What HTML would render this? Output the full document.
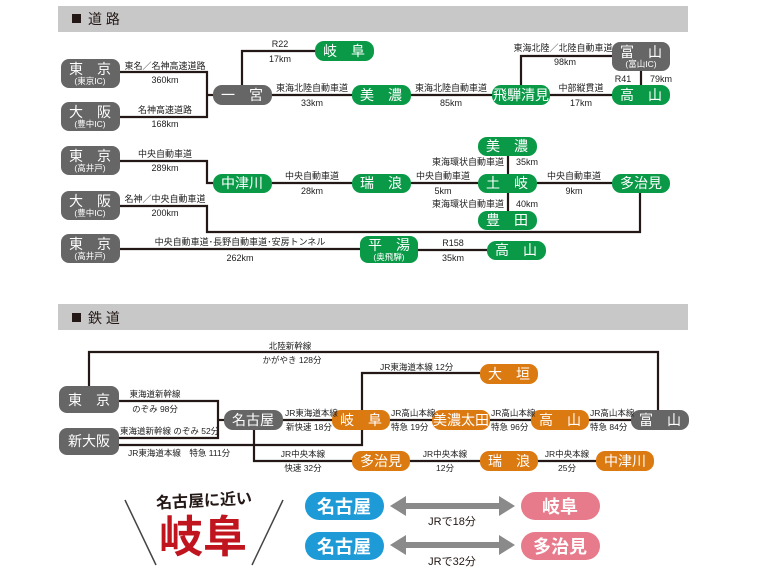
<!DOCTYPE html>
<html><head><meta charset="utf-8"><style>
html,body{margin:0;padding:0;background:#fff}
svg{display:block}
text{font-family:"Liberation Sans","Noto Sans CJK JP",sans-serif}
.s{font-size:9px;fill:#222}
.r{font-size:8.5px;fill:#222}
.w{fill:#fff;font-size:14px}
.ws{fill:#fff;font-size:8.5px}
</style></head><body>
<svg width="763" height="572" viewBox="0 0 763 572" xmlns="http://www.w3.org/2000/svg">
<rect x="58" y="6" width="630" height="26" fill="#c8c8c8"/>
<rect x="72" y="14" width="9" height="9" fill="#231815"/>
<text x="88" y="24" font-size="14" fill="#231815">道 路</text>
<rect x="58" y="304" width="630" height="26" fill="#c8c8c8"/>
<rect x="72" y="313" width="9" height="9" fill="#231815"/>
<text x="88" y="323" font-size="14" fill="#231815">鉄 道</text>

<g stroke="#231815" stroke-width="2.2" fill="none">
<polyline points="120,72 207,72 207,117 120,117"/>
<line x1="207" y1="95" x2="213" y2="95"/>
<polyline points="242,85 242,51 315,51"/>
<line x1="272" y1="95" x2="352" y2="95"/>
<line x1="411" y1="95" x2="492" y2="95"/>
<line x1="550" y1="95" x2="612" y2="95"/>
<polyline points="521,85 521,56 612,56"/>
<line x1="641" y1="71" x2="641" y2="85"/>
<polyline points="120,161 207,161 207,183 213,183"/>
<line x1="272" y1="183" x2="352" y2="183"/>
<line x1="411" y1="183" x2="478" y2="183"/>
<line x1="537" y1="183" x2="612" y2="183"/>
<line x1="508" y1="156" x2="508" y2="211"/>
<polyline points="120,206 207,206 207,232 640,232 640,193"/>
<line x1="120" y1="249" x2="360" y2="249"/>
<line x1="418" y1="250" x2="487" y2="250"/>

<polyline points="89,386 89,352 658,352 658,410"/>
<polyline points="119,401 218,401 218,438 119,438"/>
<line x1="218" y1="420" x2="224" y2="420"/>
<line x1="283" y1="420" x2="631" y2="420"/>
<polyline points="119,445 362,445 362,373 480,373"/>
<polyline points="254,430 254,461 352,461"/>
<line x1="410" y1="461" x2="596" y2="461"/>
</g>

<g fill="#666">
<rect x="61" y="59" width="59" height="29" rx="8"/>
<rect x="61" y="102" width="59" height="29" rx="8"/>
<rect x="213" y="85" width="59" height="20" rx="9"/>
<rect x="612" y="42" width="58" height="29" rx="8"/>
<rect x="61" y="146" width="59" height="29" rx="8"/>
<rect x="61" y="191" width="59" height="29" rx="8"/>
<rect x="61" y="234" width="59" height="29" rx="8"/>
<rect x="59" y="386" width="60" height="27" rx="8"/>
<rect x="59" y="428" width="60" height="27" rx="8"/>
<rect x="224" y="410" width="59" height="20" rx="9"/>
<rect x="631" y="410" width="58" height="20" rx="9"/>
</g>
<g fill="#0a9a47">
<rect x="315" y="41" width="59" height="20" rx="9"/>
<rect x="352" y="85" width="59" height="20" rx="9"/>
<rect x="492" y="85" width="58" height="20" rx="9"/>
<rect x="612" y="85" width="58" height="20" rx="9"/>
<rect x="213" y="174" width="59" height="19" rx="9"/>
<rect x="352" y="174" width="59" height="19" rx="9"/>
<rect x="478" y="137" width="59" height="19" rx="9"/>
<rect x="478" y="174" width="59" height="19" rx="9"/>
<rect x="478" y="211" width="59" height="19" rx="9"/>
<rect x="612" y="174" width="58" height="19" rx="9"/>
<rect x="360" y="236" width="58" height="27" rx="8"/>
<rect x="487" y="241" width="59" height="19" rx="9"/>
</g>
<g fill="#dc7a12">
<rect x="332" y="410" width="58" height="20" rx="9"/>
<rect x="480" y="364" width="58" height="20" rx="9"/>
<rect x="432" y="410" width="58" height="20" rx="9"/>
<rect x="531" y="410" width="58" height="20" rx="9"/>
<rect x="352" y="451" width="58" height="20" rx="9"/>
<rect x="480" y="451" width="58" height="20" rx="9"/>
<rect x="596" y="451" width="58" height="20" rx="9"/>
</g>

<g text-anchor="middle">
<text class="w" x="90" y="74">東　京</text><text class="ws" x="90" y="84">(東京IC)</text>
<text class="w" x="90" y="117">大　阪</text><text class="ws" x="90" y="127">(豊中IC)</text>
<text class="w" x="242" y="100">一　宮</text>
<text class="w" x="641" y="57">富　山</text><text class="ws" x="641" y="67">(富山IC)</text>
<text class="w" x="90" y="161">東　京</text><text class="ws" x="90" y="171">(高井戸)</text>
<text class="w" x="90" y="206">大　阪</text><text class="ws" x="90" y="216">(豊中IC)</text>
<text class="w" x="90" y="249">東　京</text><text class="ws" x="90" y="259">(高井戸)</text>
<text class="w" x="344" y="56">岐　阜</text>
<text class="w" x="381" y="100">美　濃</text>
<text class="w" x="521" y="100">飛騨清見</text>
<text class="w" x="641" y="100">高　山</text>
<text class="w" x="242" y="188">中津川</text>
<text class="w" x="381" y="188">瑞　浪</text>
<text class="w" x="507" y="151">美　濃</text>
<text class="w" x="507" y="188">土　岐</text>
<text class="w" x="507" y="225">豊　田</text>
<text class="w" x="641" y="188">多治見</text>
<text class="w" x="389" y="250">平　湯</text><text class="ws" x="389" y="260">(奥飛騨)</text>
<text class="w" x="516" y="255">高　山</text>
<text class="w" x="89" y="405">東　京</text>
<text class="w" x="89" y="446">新大阪</text>
<text class="w" x="253" y="425">名古屋</text>
<text class="w" x="660" y="425">富　山</text>
<text class="w" x="361" y="425">岐　阜</text>
<text class="w" x="509" y="379">大　垣</text>
<text class="w" x="461" y="425">美濃太田</text>
<text class="w" x="560" y="425">高　山</text>
<text class="w" x="381" y="466">多治見</text>
<text class="w" x="509" y="466">瑞　浪</text>
<text class="w" x="625" y="466">中津川</text>

<text class="s" x="165" y="69">東名／名神高速道路</text><text class="s" x="165" y="83">360km</text>
<text class="s" x="165" y="113">名神高速道路</text><text class="s" x="165" y="127">168km</text>
<text class="s" x="280" y="47">R22</text><text class="s" x="280" y="62">17km</text>
<text class="s" x="312" y="91">東海北陸自動車道</text><text class="s" x="312" y="106">33km</text>
<text class="s" x="451" y="91">東海北陸自動車道</text><text class="s" x="451" y="106">85km</text>
<text class="s" x="563" y="51">東海北陸／北陸自動車道</text><text class="s" x="565" y="65">98km</text>
<text class="s" x="581" y="91">中部縦貫道</text><text class="s" x="581" y="106">17km</text>
<text class="s" x="623" y="82">R41</text><text class="s" x="661" y="82">79km</text>
<text class="s" x="165" y="157">中央自動車道</text><text class="s" x="165" y="171">289km</text>
<text class="s" x="312" y="179">中央自動車道</text><text class="s" x="312" y="194">28km</text>
<text class="s" x="443" y="179">中央自動車道</text><text class="s" x="443" y="194">5km</text>
<text class="s" x="574" y="179">中央自動車道</text><text class="s" x="574" y="194">9km</text>
<text class="s" x="468" y="165">東海環状自動車道</text><text class="s" x="527" y="165">35km</text>
<text class="s" x="468" y="207">東海環状自動車道</text><text class="s" x="527" y="207">40km</text>
<text class="s" x="165" y="202">名神／中央自動車道</text><text class="s" x="165" y="216">200km</text>
<text class="s" x="240" y="245">中央自動車道･長野自動車道･安房トンネル</text><text class="s" x="240" y="261">262km</text>
<text class="s" x="453" y="246">R158</text><text class="s" x="453" y="261">35km</text>

<text class="r" x="290" y="349">北陸新幹線</text><text class="r" x="292" y="363">かがやき 128分</text>
<text class="r" x="155" y="397">東海道新幹線</text><text class="r" x="155" y="412">のぞみ 98分</text>
<text class="r" x="303" y="457">JR中央本線</text><text class="r" x="303" y="471">快速 32分</text>
<text class="r" x="445" y="457">JR中央本線</text><text class="r" x="445" y="471">12分</text>
<text class="r" x="567" y="457">JR中央本線</text><text class="r" x="567" y="471">25分</text>
</g>
<text class="r" x="380" y="370">JR東海道本線 12分</text>
<text class="r" x="120" y="434">東海道新幹線 のぞみ 52分</text>
<text class="r" x="128" y="456">JR東海道本線　特急 111分</text>
<text class="r" x="285" y="416">JR東海道本線</text><text class="r" x="286" y="430">新快速 18分</text>
<text class="r" x="391" y="416">JR高山本線</text><text class="r" x="391" y="430">特急 19分</text>
<text class="r" x="491" y="416">JR高山本線</text><text class="r" x="491" y="430">特急 96分</text>
<text class="r" x="590" y="416">JR高山本線</text><text class="r" x="590" y="430">特急 84分</text>

<g stroke="#444" stroke-width="1.5">
<line x1="125" y1="500" x2="156" y2="565"/>
<line x1="283" y1="500" x2="252" y2="565"/>
</g>
<text x="204" y="506" text-anchor="middle" font-size="16" font-weight="bold" fill="#231815" transform="rotate(-3 204 500)">名古屋に近い</text>
<text x="203" y="552" text-anchor="middle" font-size="44" font-weight="bold" fill="#c0141e">岐阜</text>

<g fill="#1e9bd7">
<rect x="305" y="492" width="79" height="28" rx="14"/>
<rect x="305" y="532" width="79" height="28" rx="14"/>
</g>
<g fill="#e77b8c">
<rect x="521" y="492" width="79" height="28" rx="14"/>
<rect x="521" y="532" width="79" height="28" rx="14"/>
</g>
<g fill="#8a8a8a">
<polygon points="390,506 406,496 406,503 499,503 499,496 515,506 499,516 499,509 406,509 406,516"/>
<polygon points="390,545 406,535 406,542 499,542 499,535 515,545 499,555 499,548 406,548 406,555"/>
</g>
<g text-anchor="middle" fill="#fff" font-size="18" font-weight="bold">
<text x="344" y="513" fill="#fff">名古屋</text>
<text x="344" y="553" fill="#fff">名古屋</text>
<text x="560" y="513" fill="#fff">岐阜</text>
<text x="560" y="553" fill="#fff">多治見</text>
</g>
<text x="452" y="525" text-anchor="middle" font-size="11" fill="#231815">JRで18分</text>
<text x="452" y="565" text-anchor="middle" font-size="11" fill="#231815">JRで32分</text>
</svg>
</body></html>
